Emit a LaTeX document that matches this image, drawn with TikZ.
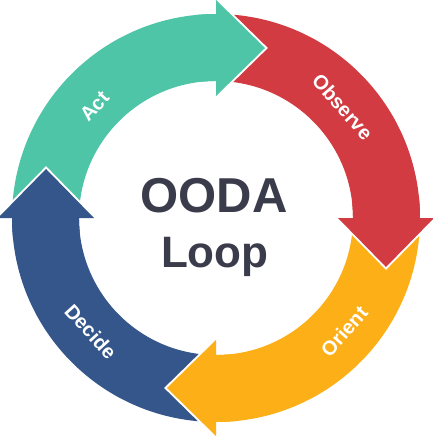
\documentclass[tikz,border=0pt]{standalone}
\usepackage{fontspec}
\setmainfont{Liberation Sans}
\definecolor{cgrn}{HTML}{4EC5A6}
\definecolor{cred}{HTML}{D13B41}
\definecolor{corg}{HTML}{FDAF17}
\definecolor{cblu}{HTML}{34568A}
\definecolor{ctxt}{HTML}{3B3C4B}
\begin{document}
\begin{tikzpicture}[
  lbl/.style={text=white, font=\bfseries\fontsize{20}{20}\selectfont, inner sep=0pt},
  gapline/.style={draw=white, fill=white, line width=4pt, line join=miter}
]
\useasboundingbox (-216pt,-218pt) rectangle (217pt,218pt);
% pass 1: ring bands
\foreach \s/\b/\c in {180/90/cgrn, 90/0/cred, 0/-90/corg, -90/-180/cblu}{
  \fill[\c] (\s:204pt) arc[start angle=\s, end angle=\b, radius=204pt]
    -- (\b:137pt) arc[start angle=\b, end angle=\s, radius=137pt] -- cycle;
}
% pass 2: heads with white gap
\foreach \b/\c in {90/cgrn, 0/cred, -90/corg, -180/cblu}{
  \path[gapline] (\b:122pt) -- (\b-16.08:176.9pt) -- (\b:218pt) -- cycle;
  \fill[\c] (\b+6:204pt) arc[start angle=\b+6, end angle=\b, radius=204pt]
    -- (\b:218pt) -- (\b-16.08:176.9pt) -- (\b:122pt) -- (\b:137pt)
    arc[start angle=\b, end angle=\b+6, radius=137pt] -- cycle;
}
% labels
\node[lbl, rotate=47.4] (act) at (137.4:165pt) {Act};
\node[lbl, rotate=-48.7] (obs) at (41.3:168.5pt) {Observe};
\node[lbl, rotate=48.5] (ori) at (-41.5:171pt) {Orient};
\node[lbl, rotate=-47.8] (dec) at (222.2:169pt) {Decide};
% centre title
\node[anchor=base, text=ctxt, font=\bfseries\fontsize{49}{49}\selectfont, inner sep=0pt] (t1) at (-1.8pt,5.3pt) {OODA};
\node[anchor=base, text=ctxt, font=\bfseries\fontsize{44}{44}\selectfont, inner sep=0pt] (t2) at (-1.2pt,-49.3pt) {Loop};
\end{tikzpicture}
\end{document}
